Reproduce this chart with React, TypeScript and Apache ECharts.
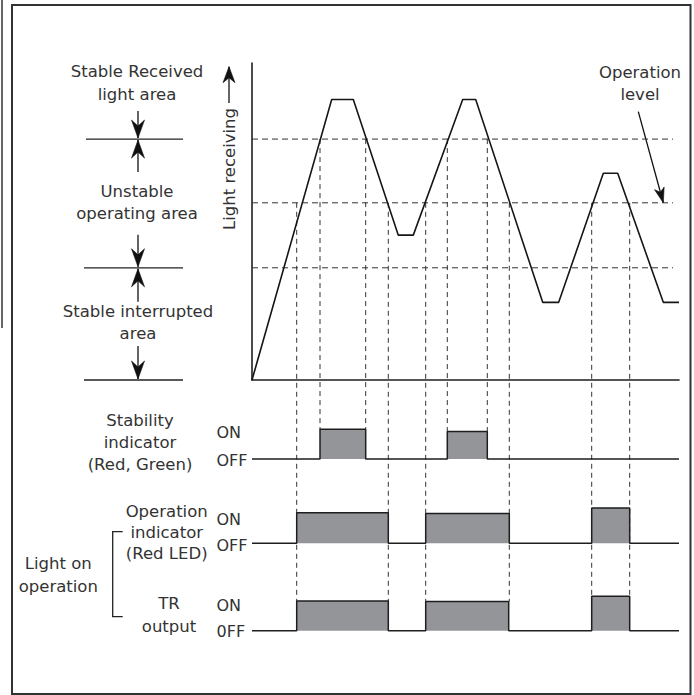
import React, { useEffect, useRef } from 'react';
import * as echarts from 'echarts';

// Light-receiving waveform (time units, relative light level 0-100)
const waveTime = [0, 79.7, 101.3, 146.3, 161.3, 210.7, 223.7, 290.7, 306.7, 351.3, 365.7, 411.3, 427];
const waveLevel = [0, 88.5, 88.5, 45.7, 45.7, 88.5, 88.5, 24.5, 24.5, 65.2, 65.2, 24.5, 24.5];
// Threshold levels: stable-received boundary, operation level, stable-interrupted boundary
const levels = [76, 55.9, 35.4];
const levelLineEnd = 421;
const timeEnd = 427;

// Output signals: ON intervals and relative pulse heights
const stabilityOn = [[68, 113.7], [195.3, 235.3]];
const stabilityHeight = [1, 0.93];
const operationOn = [[44.7, 136.3], [173.7, 257.3], [339.7, 377.7]];
const operationHeight = [1, 0.97, 1.15];
const trOn = [[44.7, 136.3], [173.7, 256.7], [339.7, 377.7]];
const trHeight = [1, 0.98, 1.16];

const FONT = '"DejaVu Sans", "Liberation Sans", sans-serif';
const INK = '#333333';
const GRAY = '#939598';

function pulses(times: number[][], heights: number[], end: number) {
  const pts: number[][] = [[0, 0]];
  times.forEach(([a, b], i) => {
    pts.push([a, 0], [a, heights[i]], [b, heights[i]], [b, 0]);
  });
  pts.push([end, 0]);
  return pts;
}

function arrowHead(tx: number, ty: number, fx: number, fy: number, len = 18, half = 6.5, notch = 12) {
  const dx = tx - fx;
  const dy = ty - fy;
  const d = Math.sqrt(dx * dx + dy * dy) || 1;
  const ux = dx / d;
  const uy = dy / d;
  const nx = -uy;
  const ny = ux;
  return {
    type: 'polygon',
    shape: {
      points: [
        [tx, ty],
        [tx - ux * len + nx * half, ty - uy * len + ny * half],
        [tx - ux * notch, ty - uy * notch],
        [tx - ux * len - nx * half, ty - uy * len - ny * half],
      ],
    },
    style: { fill: '#111', stroke: '#111', lineWidth: 0.6 },
    silent: true,
  };
}

function arrow(fx: number, fy: number, tx: number, ty: number, len = 18, half = 6.5, notch = 12) {
  return [
    { type: 'line', shape: { x1: fx, y1: fy, x2: tx, y2: ty }, style: { stroke: '#111', lineWidth: 1.3 }, silent: true },
    arrowHead(tx, ty, fx, fy, len, half, notch),
  ];
}

function text(x: number, y: number, t: string, opts: any = {}) {
  const align = opts.align || 'center';
  return {
    type: 'text',
    x,
    y,
    rotation: opts.rotation || 0,
    style: {
      text: t,
      fill: INK,
      fontFamily: FONT,
      fontSize: opts.size || 16.5,
      lineHeight: opts.lh || 22,
      align,
      textAlign: align,
      verticalAlign: 'middle',
      textVerticalAlign: 'middle',
    },
    silent: true,
  };
}

function signalGrid(baseline: number, unit: number) {
  const h = unit * 1.2;
  return { left: 252, width: 427, top: baseline - h, height: h, containLabel: false };
}

export default function App() {
  const ref = useRef<HTMLDivElement>(null);

  useEffect(() => {
    if (!ref.current) return;
    const chart = echarts.init(ref.current, undefined, { renderer: 'svg' });

    const wave = waveTime.map((t, i) => [t, waveLevel[i]]);
    const xBase = { type: 'value', min: 0, max: timeEnd, show: false };
    const yBase = { type: 'value', min: 0, max: 1.2, show: false };

    const signalSeries = (idx: number, data: number[][]) => ({
      type: 'line',
      xAxisIndex: idx,
      yAxisIndex: idx,
      data,
      symbol: 'none',
      clip: false,
      lineStyle: { color: '#1e1e1e', width: 1.5 },
      areaStyle: { color: GRAY, opacity: 1 },
      z: 3,
    });

    chart.setOption({
      animation: false,
      backgroundColor: '#ffffff',
      grid: [
        { left: 252, top: 63, width: 427, height: 317 },
        signalGrid(459, 29.7),
        signalGrid(543.3, 30.6),
        signalGrid(630.7, 29.7),
      ],
      xAxis: [
        {
          type: 'value', gridIndex: 0, min: 0, max: timeEnd,
          axisLine: { show: true, onZero: false, lineStyle: { color: '#1e1e1e', width: 1.6 } },
          axisTick: { show: false }, axisLabel: { show: false }, splitLine: { show: false },
        },
        { ...xBase, gridIndex: 1 },
        { ...xBase, gridIndex: 2 },
        { ...xBase, gridIndex: 3 },
      ],
      yAxis: [
        {
          type: 'value', gridIndex: 0, min: 0, max: 100,
          axisLine: { show: true, onZero: false, lineStyle: { color: '#1e1e1e', width: 1.6 } },
          axisTick: { show: false }, axisLabel: { show: false }, splitLine: { show: false },
        },
        { ...yBase, gridIndex: 1 },
        { ...yBase, gridIndex: 2 },
        { ...yBase, gridIndex: 3 },
      ],
      series: [
        ...levels.map((lv) => ({
          type: 'line',
          xAxisIndex: 0,
          yAxisIndex: 0,
          data: [[0, lv], [levelLineEnd, lv]],
          symbol: 'none',
          lineStyle: { color: '#333', width: 1, type: [6, 4] },
          z: 2,
        })),
        {
          type: 'line',
          xAxisIndex: 0,
          yAxisIndex: 0,
          data: wave,
          symbol: 'none',
          lineStyle: { color: '#161616', width: 1.6 },
          z: 4,
        },
        signalSeries(1, pulses(stabilityOn, stabilityHeight, timeEnd)),
        signalSeries(2, pulses(operationOn, operationHeight, timeEnd)),
        signalSeries(3, pulses(trOn, trHeight, timeEnd)),
      ],
    });

    const px = (grid: number, pt: number[]) => chart.convertToPixel({ gridIndex: grid } as any, pt) as number[];

    const graphics: any[] = [];
    // frame and stray left edge
    graphics.push({ type: 'rect', shape: { x: 12, y: 5, width: 678.5, height: 689 }, style: { fill: 'none', stroke: '#333', lineWidth: 2 }, silent: true });
    graphics.push({ type: 'line', shape: { x1: 2, y1: 0, x2: 2, y2: 328 }, style: { stroke: '#333', lineWidth: 1.5 }, silent: true });

    // vertical dashed guide lines
    const dash = { stroke: '#333', lineWidth: 1, lineDash: [5, 4] };
    operationOn.forEach(([a, b], i) => {
      [a, b].forEach((t) => {
        const s = px(0, [t, levels[1]]);
        const e = px(3, [t, trHeight[i]]);
        graphics.push({ type: 'line', shape: { x1: s[0], y1: s[1], x2: e[0], y2: e[1] }, style: dash, silent: true, z: 1 });
      });
    });
    stabilityOn.forEach(([a, b], i) => {
      [a, b].forEach((t) => {
        const s = px(0, [t, levels[0]]);
        const e = px(1, [t, stabilityHeight[i]]);
        graphics.push({ type: 'line', shape: { x1: s[0], y1: s[1], x2: e[0], y2: e[1] }, style: dash, silent: true, z: 1 });
      });
    });

    // left area annotation
    const yU = px(0, [0, levels[0]])[1];
    const yL = px(0, [0, levels[2]])[1];
    const y0 = px(0, [0, 0])[1];
    const ax = 138;
    [[86, yU], [84, yL], [84, y0]].forEach(([x1, y]) => {
      graphics.push({ type: 'line', shape: { x1, y1: y, x2: 183, y2: y }, style: { stroke: '#222', lineWidth: 1.3 }, silent: true });
    });
    graphics.push(...arrow(ax, yU - 28, ax, yU - 1));
    graphics.push(...arrow(ax, yU + 33, ax, yU + 1));
    graphics.push(...arrow(ax, yL - 33, ax, yL - 1));
    graphics.push(...arrow(ax, yL + 34, ax, yL + 1));
    graphics.push(...arrow(ax, y0 - 34, ax, y0 - 1));

    graphics.push(text(137, 83.3, 'Stable Received\nlight area', { lh: 23 }));
    graphics.push(text(137, 202.5, 'Unstable\noperating area', { lh: 22 }));
    graphics.push(text(138, 322.5, 'Stable interrupted\narea', { lh: 22 }));

    // Light receiving axis title
    graphics.push(text(229, 169, 'Light receiving', { rotation: Math.PI / 2 }));
    graphics.push(...arrow(229, 103, 229, 66.7, 16, 6, 11));

    // Operation level callout
    const yOp = px(0, [0, levels[1]])[1];
    graphics.push(text(640, 83.5, 'Operation\nlevel', { lh: 22 }));
    graphics.push(...arrow(638.3, 111.7, 663.3, yOp, 15, 5, 11));

    // bottom labels
    graphics.push(text(140, 442, 'Stability\nindicator\n(Red, Green)', { lh: 22 }));
    graphics.push(text(166.7, 532.8, 'Operation\nindicator\n(Red LED)', { lh: 21.2 }));
    graphics.push(text(58.3, 574.7, 'Light on\noperation', { lh: 22.7 }));
    graphics.push(text(169, 614.7, 'TR\noutput', { lh: 22.7 }));

    const onOff: [number, string][] = [[432.7, 'ON'], [460, 'OFF'], [519, 'ON'], [545, 'OFF'], [605, 'ON'], [631.7, '0FF']];
    onOff.forEach(([y, t]) => graphics.push(text(216.5, y, t, { align: 'left', size: 16 })));

    graphics.push({
      type: 'polyline',
      shape: { points: [[122.7, 531.7], [112.7, 531.7], [112.7, 616.7], [122.7, 616.7]] },
      style: { stroke: '#222', lineWidth: 1.3, fill: 'none' },
      silent: true,
    });

    chart.setOption({ graphic: graphics });

    return () => chart.dispose();
  }, []);

  return (
    <div
      ref={ref}
      style={{ position: 'fixed', left: 0, top: 0, width: 694, height: 695, background: '#fff' }}
    />
  );
}
